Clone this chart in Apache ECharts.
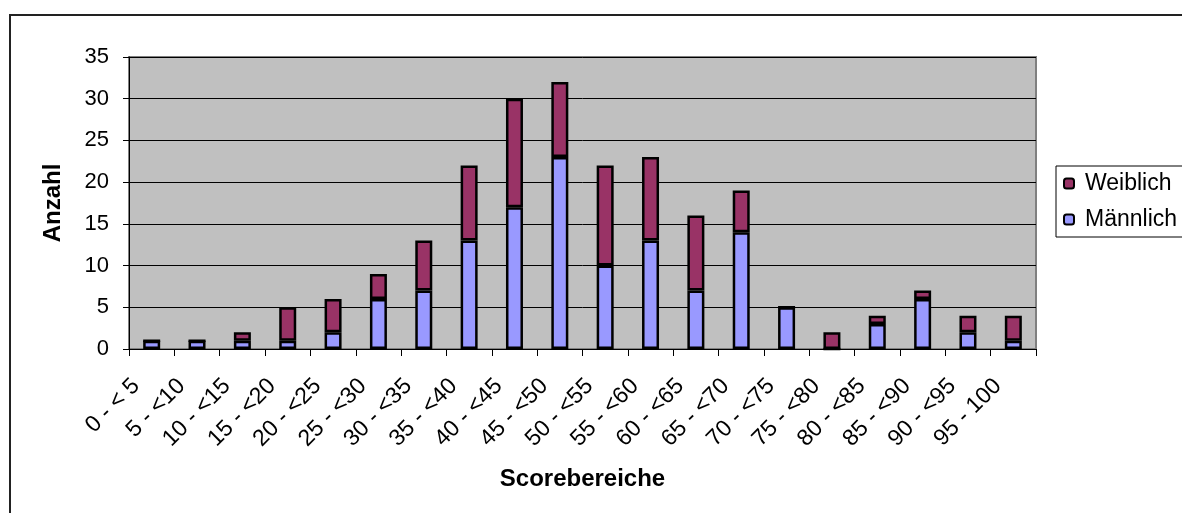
<!DOCTYPE html>
<html>
<head>
<meta charset="utf-8">
<script src="https://cdn.jsdelivr.net/npm/echarts@6/dist/echarts.min.js"></script>
<style>
  html, body { margin: 0; padding: 0; background: #fff; }
  #chart { width: 1182px; height: 513px; }
</style>
</head>
<body>
<div id="chart"></div>
<script>
const categories = ['0 - < 5', '5 - <10', '10 - <15', '15 - <20', '20 - <25', '25 - <30', '30 - <35', '35 - <40', '40 - <45', '45 - <50', '50 - <55', '55 - <60', '60 - <65', '65 - <70', '70 - <75', '75 - <80', '80 - <85', '85 - <90', '90 - <95', '95 - 100'];
const maennlich = [1, 1, 1, 1, 2, 6, 7, 13, 17, 23, 10, 13, 7, 14, 5, 0, 3, 6, 2, 1];
const weiblich  = [0, 0, 1, 4, 4, 3, 6, 9, 13, 9, 12, 10, 9, 5, 0, 2, 1, 1, 2, 3];
const yTicks = [0, 5, 10, 15, 20, 25, 30, 35];

const FONT = 'Liberation Sans, Arial, sans-serif';
const chart = echarts.init(document.getElementById('chart'), null, { renderer: 'canvas' });

chart.setOption({
  animation: false,
  backgroundColor: '#ffffff',
  textStyle: { fontFamily: FONT },
  graphic: [{
    type: 'rect',
    shape: { x: 10, y: 15, width: 1300, height: 700 },
    style: { fill: 'none', stroke: '#222', lineWidth: 2 },
    silent: true
  }],
  grid: {
    left: 129, right: 146, top: 57, bottom: 164,
    show: true, backgroundColor: '#C0C0C0', borderColor: '#808080', borderWidth: 2
  },
  legend: {
    orient: 'vertical',
    left: 1056, top: 166,
    data: ['Weiblich', 'Männlich'],
    borderColor: '#000', borderWidth: 1,
    padding: [6, 40, 6, 7],
    itemWidth: 10, itemHeight: 10, itemGap: 13,
    textStyle: { fontFamily: FONT, fontSize: 23, color: '#000', padding: [0, 0, 0, 6] }
  },
  xAxis: {
    type: 'category',
    data: categories,
    name: 'Scorebereiche',
    nameLocation: 'middle',
    nameGap: 118,
    nameTextStyle: { fontFamily: FONT, fontSize: 24, fontWeight: 'bold', color: '#000' },
    axisLine: { lineStyle: { color: '#000', width: 1 } },
    axisTick: { show: true, length: 7, lineStyle: { color: '#000' } },
    axisLabel: { rotate: 45, margin: 18, fontFamily: FONT, fontSize: 23, color: '#000', interval: 0, padding: [0, 22, 0, 0] }
  },
  yAxis: {
    type: 'value',
    min: yTicks[0], max: yTicks[yTicks.length - 1], interval: 5,
    name: 'Anzahl',
    nameLocation: 'middle',
    nameGap: 64,
    nameTextStyle: { fontFamily: FONT, fontSize: 24, fontWeight: 'bold', color: '#000' },
    axisLine: { show: true, lineStyle: { color: '#000', width: 1 } },
    axisTick: { show: true, length: 6, lineStyle: { color: '#000' } },
    axisLabel: { margin: 20, fontFamily: FONT, fontSize: 22, color: '#000' },
    splitLine: { show: true, lineStyle: { color: '#000', width: 1 } }
  },
  series: [
    {
      name: 'Männlich', type: 'bar', stack: 'total', barWidth: 17,
      data: maennlich,
      itemStyle: { color: '#9999FF', borderColor: '#000', borderWidth: 2.5 }
    },
    {
      name: 'Weiblich', type: 'bar', stack: 'total', barWidth: 17,
      data: weiblich,
      itemStyle: { color: '#993366', borderColor: '#000', borderWidth: 2.5 }
    }
  ]
});
</script>
</body>
</html>
